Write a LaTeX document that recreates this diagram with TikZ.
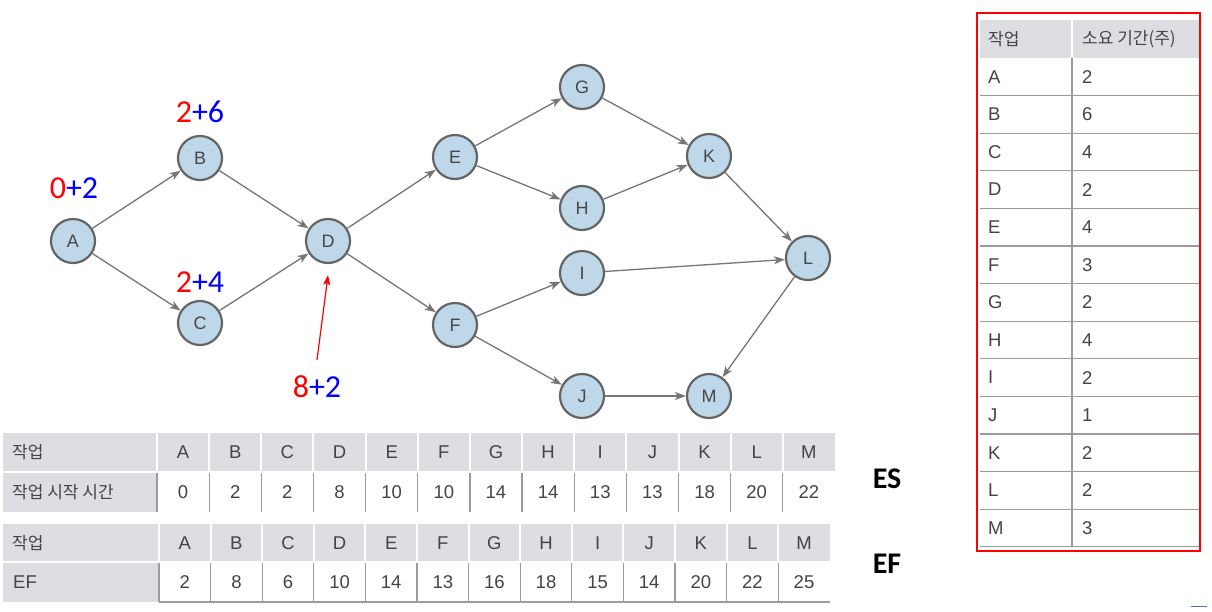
\documentclass[tikz,border=0pt]{standalone}
\usepackage{fontspec}
\setmainfont{Liberation Sans}
\newfontfamily\krfont{Noto Sans CJK KR}
\newfontfamily\calfont{Carlito}
\usetikzlibrary{arrows.meta}
\definecolor{nodefill}{RGB}{190,216,234}
\definecolor{nodeedge}{RGB}{100,100,100}
\definecolor{edgecol}{RGB}{118,118,118}
\definecolor{hdr}{RGB}{221,222,225}
\definecolor{gridc}{RGB}{155,155,155}
\definecolor{txt}{RGB}{68,68,68}
\definecolor{lblblue}{RGB}{0,0,255}
\definecolor{lblred}{RGB}{255,0,0}
\definecolor{artblue}{RGB}{90,110,190}
\begin{document}
\begin{tikzpicture}[x=1pt,y=-1pt,
  vtx/.style={circle,draw=nodeedge,fill=nodefill,line width=2.2pt,minimum size=44pt,inner sep=0pt,
    font=\fontsize{18}{20}\selectfont,text=black!72},
  edge/.style={draw=edgecol,line width=1.3pt,-{Stealth[length=11pt,width=8pt,inset=3pt]}},
  lbl/.style={inner sep=0pt,font=\calfont\fontsize{32}{34}\selectfont},
  cellt/.style={inner sep=0pt,text=txt,font=\fontsize{18.5}{20}\selectfont},
  krt/.style={inner sep=0pt,text=txt,anchor=west,font=\krfont\fontsize{17}{19}\selectfont},
  big/.style={inner sep=0pt,font=\calfont\bfseries\fontsize{30}{32}\selectfont}
]
\useasboundingbox (0,0) rectangle (1212,611);
\fill[white] (0,0) rectangle (1212,611);

% ---------------- graph ----------------
\node[vtx] (A) at (73,241) {A};
\node[vtx] (B) at (200,158) {B};
\node[vtx] (C) at (200,323) {C};
\node[vtx] (D) at (328,241) {D};
\node[vtx] (E) at (455,157) {E};
\node[vtx] (F) at (455,325) {F};
\node[vtx] (G) at (582,87) {G};
\node[vtx] (H) at (582,208) {H};
\node[vtx] (I) at (582,273) {I};
\node[vtx] (J) at (582,396) {J};
\node[vtx] (K) at (709,156) {K};
\node[vtx] (L) at (808,258) {L};
\node[vtx] (M) at (709,396) {M};

\draw[edge] (A) -- (B);
\draw[edge] (A) -- (C);
\draw[edge] (B) -- (D);
\draw[edge] (C) -- (D);
\draw[edge] (D) -- (E);
\draw[edge] (D) -- (F);
\draw[edge] (E) -- (G);
\draw[edge] (E) -- (H);
\draw[edge] (F) -- (I);
\draw[edge] (F) -- (J);
\draw[edge] (G) -- (K);
\draw[edge] (H) -- (K);
\draw[edge] (I) -- (L);
\draw[edge] (K) -- (L);
\draw[edge] (L) -- (M);
\draw[edge,line width=2.2pt] (J) -- (M);

\node[lbl] (lA) at (74,188) {\textcolor{lblred}{0}\textcolor{lblblue}{+2}};
\node[lbl] (lB) at (200,112) {\textcolor{lblred}{2}\textcolor{lblblue}{+6}};
\node[lbl] (lC) at (200,282) {\textcolor{lblred}{2}\textcolor{lblblue}{+4}};
\node[lbl] (lD) at (317,387) {\textcolor{lblred}{8}\textcolor{lblblue}{+2}};
\coordinate (rs) at (317,360);
\coordinate (rt) at (328,275);
\draw[lblred,line width=1.2pt,-{Stealth[length=10pt,width=7pt,inset=2pt]}] (rs) -- (rt);

% ---------------- ES table ----------------
\fill[hdr] (3,433) rectangle (835,471);
\fill[hdr] (3,473) rectangle (157,512);
\foreach \i in {0,...,12} {
  \draw[white,line width=2pt] ({157+52.15*\i},433) -- ({157+52.15*\i},471);
  \draw[gridc,line width=1.2pt] ({157+52.15*\i},473) -- ({157+52.15*\i},512);
}
\node[krt] (t1a) at (12,452) {작업};
\node[krt] (t1b) at (12,492) {작업 시작 시간};
\foreach \i/\l/\v in {0/A/0,1/B/2,2/C/2,3/D/8,4/E/10,5/F/10,6/G/14,7/H/14,8/I/13,9/J/13,10/K/18,11/L/20,12/M/22} {
  \node[cellt] (t1h\i) at ({157+52.15*(\i+0.5)},452) {\l};
  \node[cellt] (t1v\i) at ({157+52.15*(\i+0.5)},492) {\v};
}

% ---------------- EF table ----------------
\fill[hdr] (3,524) rectangle (830,561);
\fill[hdr] (3,563) rectangle (159,602);
\foreach \i in {0,...,12} {
  \draw[white,line width=2pt] ({159+51.6*\i},524) -- ({159+51.6*\i},561);
  \draw[gridc,line width=1.2pt] ({159+51.6*\i},563) -- ({159+51.6*\i},602);
}
\draw[gridc,line width=1.5pt] (159,602) -- (830,602);
\node[krt] (t2a) at (12,543) {작업};
\node[cellt,anchor=west] (t2b) at (13,582) {EF};
\foreach \i/\l/\v in {0/A/2,1/B/8,2/C/6,3/D/10,4/E/14,5/F/13,6/G/16,7/H/18,8/I/15,9/J/14,10/K/20,11/L/22,12/M/25} {
  \node[cellt] (t2h\i) at ({159+51.6*(\i+0.5)},543) {\l};
  \node[cellt] (t2v\i) at ({159+51.6*(\i+0.5)},582) {\v};
}

\node[big] (ES) at (887,479) {ES};
\node[big] (EF) at (887,564) {EF};

% ---------------- duration table ----------------
\fill[hdr] (980,20) rectangle (1199,58);
\draw[white,line width=2pt] (1072,20) -- (1072,58);
\foreach \k in {1,...,13} {
  \draw[gridc,line width=1.3pt] (980,{58+37.6*\k}) -- (1199,{58+37.6*\k});
}
\draw[gridc,line width=1.3pt] (1072,58) -- (1072,547);
\node[krt] (r0a) at (988,39) {작업};
\node[krt] (r0b) at (1082,39) {소요 기간(주)};
\foreach \k/\l/\d in {1/A/2,2/B/6,3/C/4,4/D/2,5/E/4,6/F/3,7/G/2,8/H/4,9/I/2,10/J/1,11/K/2,12/L/2,13/M/3} {
  \node[cellt,anchor=west] (rl\k) at (988,{58+37.6*(\k-0.5)}) {\l};
  \node[cellt,anchor=west] (rd\k) at (1082,{58+37.6*(\k-0.5)}) {\d};
}
\draw[red,line width=1.5pt] (977,13) rectangle (1200,551);

\draw[artblue,line width=0.8pt] (1191,606) -- (1207,606);
\end{tikzpicture}
\end{document}
